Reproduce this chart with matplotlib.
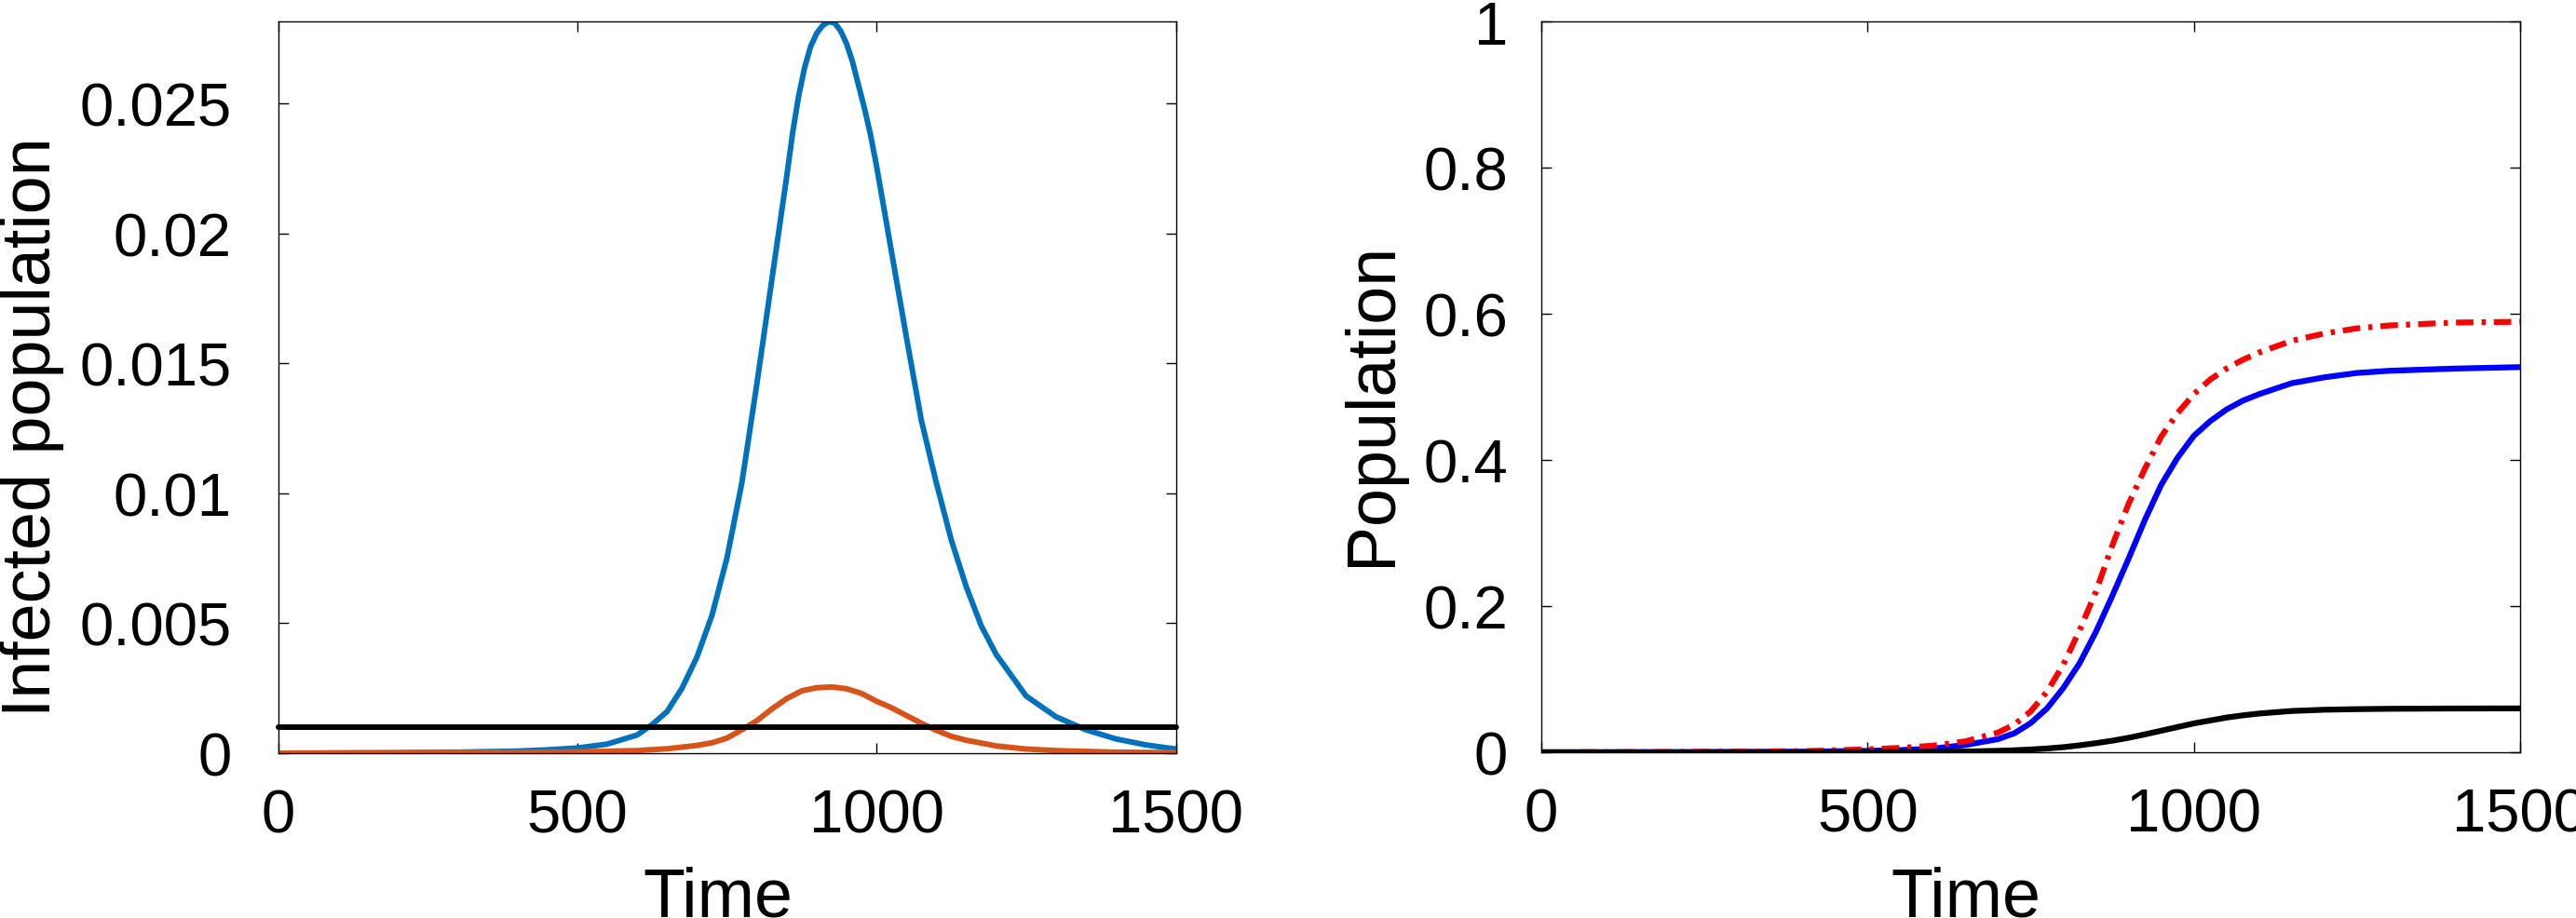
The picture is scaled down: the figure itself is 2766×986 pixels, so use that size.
import matplotlib
matplotlib.use("Agg")
import matplotlib.pyplot as plt

plt.rcParams['font.family'] = ['Liberation Sans', 'DejaVu Sans']

# ---- Left panel data ----
t_inf_blue = [0, 100, 200, 300, 400, 450, 500, 550, 600, 625, 650, 675, 700, 725, 750, 775,
              800, 825, 850, 860, 870, 880, 890, 900, 910, 920, 930, 940, 950, 960, 970, 980,
              990, 1000, 1025, 1050, 1075, 1100, 1125, 1150, 1175, 1200, 1250, 1300, 1350,
              1400, 1450, 1500]
inf_blue = [0, 0.00001, 0.00002, 0.00004, 0.00008, 0.00013, 0.0002, 0.00035, 0.0007, 0.0011,
            0.0016, 0.0025, 0.0037, 0.0053, 0.0075, 0.0104, 0.0142, 0.0182, 0.0222, 0.0239,
            0.0253, 0.0264, 0.0272, 0.0277, 0.0280, 0.02815, 0.0281, 0.0278, 0.0273, 0.0266,
            0.0257, 0.0248, 0.0238, 0.0226, 0.0193, 0.0160, 0.0128, 0.0104, 0.0082, 0.0064,
            0.0049, 0.0038, 0.0022, 0.0014, 0.0009, 0.00055, 0.00032, 0.00016]

t_inf_orange = [0, 200, 400, 500, 600, 650, 700, 725, 750, 775, 800, 825, 850, 875, 900, 925,
                950, 975, 1000, 1025, 1050, 1075, 1100, 1125, 1150, 1200, 1250, 1300, 1400, 1500]
inf_orange = [0, 0.00001, 0.00003, 0.00005, 0.0001, 0.00017, 0.0003, 0.0004, 0.00058, 0.0009,
              0.00125, 0.0017, 0.0021, 0.0024, 0.00252, 0.00255, 0.00248, 0.0023, 0.0020,
              0.00175, 0.00145, 0.00115, 0.00088, 0.00065, 0.0005, 0.00028, 0.00016, 0.0001,
              0.00004, 0.00002]

threshold_t = [0, 1500]
threshold_val = [0.001, 0.001]

left_yticks = [0, 0.005, 0.01, 0.015, 0.02, 0.025]
left_yticklabels = ['0', '0.005', '0.01', '0.015', '0.02', '0.025']
xticks = [0, 500, 1000, 1500]
xticklabels = ['0', '500', '1000', '1500']

# ---- Right panel data ----
t_pop = [0, 200, 400, 500, 550, 600, 650, 700, 725, 750, 775, 800, 825, 850, 875, 900, 925,
         950, 975, 1000, 1025, 1050, 1075, 1100, 1150, 1200, 1250, 1300, 1400, 1500]
pop_red = [0, 0.0003, 0.0015, 0.004, 0.006, 0.009, 0.015, 0.027, 0.038, 0.056, 0.083, 0.120,
           0.167, 0.220, 0.283, 0.340, 0.388, 0.432, 0.464, 0.490, 0.510, 0.525, 0.537, 0.547,
           0.563, 0.573, 0.580, 0.584, 0.588, 0.589]
pop_blue = [0, 0.0002, 0.0008, 0.002, 0.003, 0.005, 0.010, 0.018, 0.026, 0.040, 0.060, 0.088,
            0.122, 0.165, 0.214, 0.265, 0.318, 0.366, 0.403, 0.433, 0.453, 0.469, 0.481, 0.490,
            0.505, 0.513, 0.519, 0.522, 0.525, 0.527]
pop_black = [0, 0, 0.0001, 0.0002, 0.0003, 0.0005, 0.001, 0.002, 0.0027, 0.0038, 0.0052, 0.007,
             0.0095, 0.0125, 0.0158, 0.0198, 0.0245, 0.0295, 0.0345, 0.0395, 0.0435, 0.0475,
             0.0505, 0.053, 0.0565, 0.0582, 0.059, 0.0595, 0.0599, 0.060]

right_yticks = [0, 0.2, 0.4, 0.6, 0.8, 1]
right_yticklabels = ['0', '0.2', '0.4', '0.6', '0.8', '1']

W, H = 2766, 987
fig = plt.figure(figsize=(W / 100, H / 100), dpi=100)

def box(x0, x1, y0, y1):
    return [x0 / W, 1 - y1 / H, (x1 - x0) / W, (y1 - y0) / H]

ax1 = fig.add_axes(box(298.5, 1262.5, 24, 810))
ax2 = fig.add_axes(box(1655, 2706, 24, 809))

lw = 4.3
ax1.plot(t_inf_blue, inf_blue, color='#0072BD', lw=lw, solid_joinstyle='round')
ax1.plot(t_inf_orange, inf_orange, color='#D95319', lw=lw, solid_joinstyle='round')
ax1.plot(threshold_t, threshold_val, color='black', lw=lw, solid_capstyle='round', clip_on=False)
ax1.set_xlim(0, 1500)
ax1.set_ylim(0, 0.02816)
ax1.set_yticks(left_yticks)
ax1.set_yticklabels(left_yticklabels)

ax2.plot(t_pop, pop_blue, color='#0000FF', lw=4.5, solid_joinstyle='round')
ax2.plot(t_pop, pop_red, color='#FF0000', lw=4.5, dashes=(3.0, 1.4, 0.7, 1.4))
ax2.plot(t_pop, pop_black, color='black', lw=4.5, solid_joinstyle='round')
ax2.set_xlim(0, 1500)
ax2.set_ylim(0, 1)
ax2.set_yticks(right_yticks)
ax2.set_yticklabels(right_yticklabels)

for ax, ypad in ((ax1, 36), (ax2, 26)):
    ax.set_xticks(xticks)
    ax.set_xticklabels(xticklabels)
    for s in ax.spines.values():
        s.set_linewidth(1.0)
    ax.tick_params(direction='in', length=8, width=1.0, top=True, right=True,
                   labelsize=47)
    ax.tick_params(axis='x', pad=27)
    ax.tick_params(axis='y', pad=ypad)

fig.text(35 / W, 1 - 459 / H, 'Infected population', rotation=90, ha='center', va='center',
         fontsize=53)
fig.text(1473 / W, 1 - 434 / H, 'Population', rotation=90, ha='center', va='center',
         fontsize=53)
fig.text(771 / W, 1 - 985 / H, 'Time', ha='center', va='baseline', fontsize=53)
fig.text(2111 / W, 1 - 985 / H, 'Time', ha='center', va='baseline', fontsize=53)

fig.savefig('out.png', dpi=100)
